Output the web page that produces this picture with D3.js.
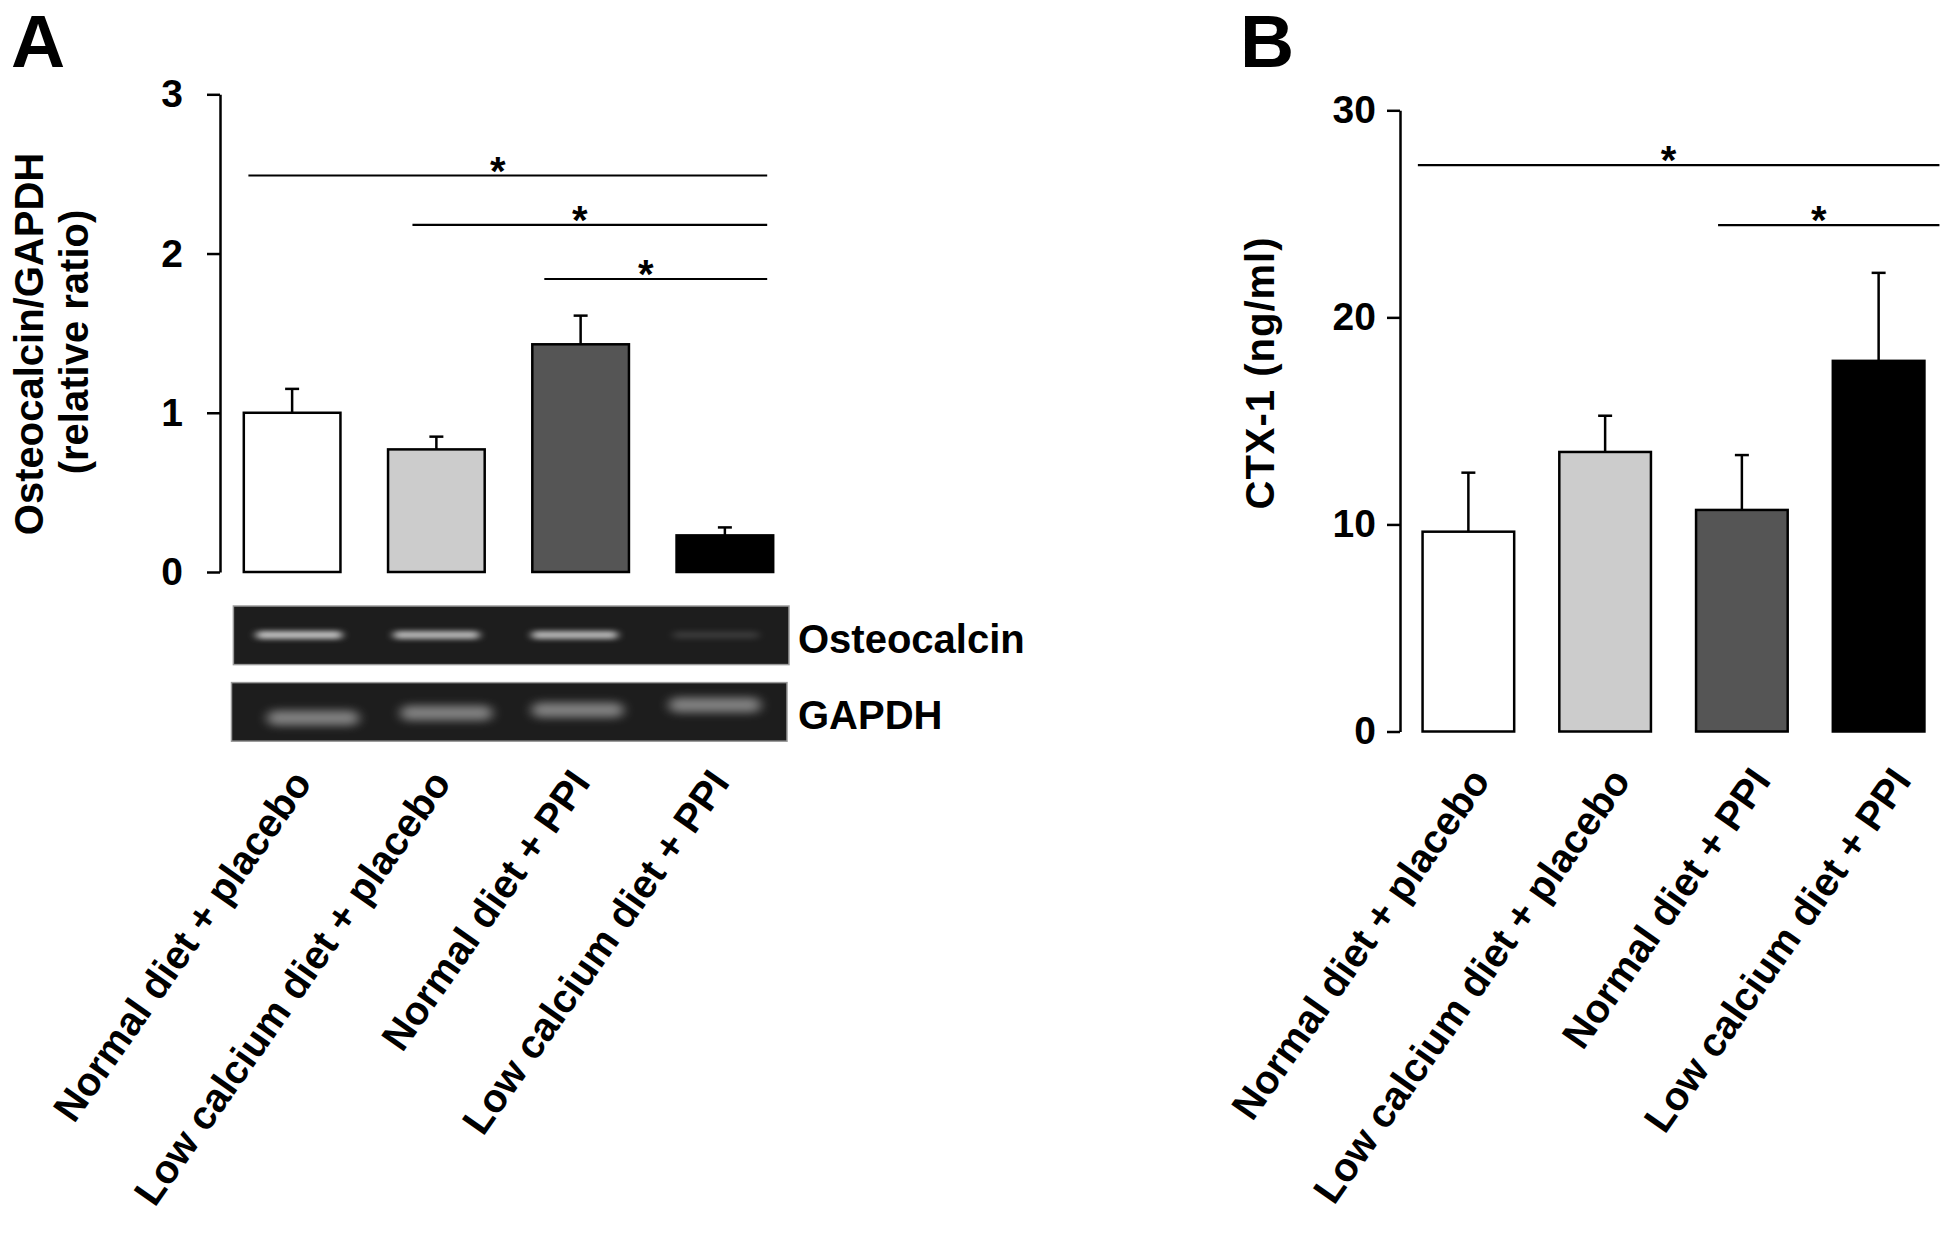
<!DOCTYPE html>
<html>
<head>
<meta charset="utf-8">
<script src="https://cdn.jsdelivr.net/npm/d3@7"></script>
<style>
  body { margin: 0; background: #fff; }
  text { font-family: "Liberation Sans", Arial, sans-serif; font-weight: bold; fill: #000; }
</style>
</head>
<body>
<div id="my_chart"></div>
<script>
// data
const categories = ["Normal diet + placebo", "Low calcium diet + placebo", "Normal diet + PPI", "Low calcium diet + PPI"];
const fills = ["#ffffff", "#cccccc", "#555555", "#000000"];

const osteoMean = [1.0, 0.77, 1.43, 0.23];
const osteoErr = [0.15, 0.08, 0.18, 0.05];
const osteoTicks = [0, 1, 2, 3];
// [from group, to group, level]
const osteoSig = [[0, 3, 2.49], [1, 3, 2.18], [2, 3, 1.84]];

const ctxMean = [9.65, 13.5, 10.7, 17.9];
const ctxErr = [2.85, 1.75, 2.65, 4.25];
const ctxTicks = [0, 10, 20, 30];
const ctxSig = [[0, 3, 27.35], [2, 3, 24.45]];

// gel band intensities (0-1)
const osteoBand = [0.85, 0.8, 0.8, 0.14];
const gapdhBand = [0.72, 0.72, 0.72, 0.72];

const W = 1949, H = 1239;

const svg = d3.select("#my_chart")
    .append("svg")
    .attr("width", W)
    .attr("height", H);

const defs = svg.append("defs");
defs.append("filter").attr("id", "blurS").attr("x", "-30%").attr("y", "-200%").attr("width", "160%").attr("height", "500%")
    .append("feGaussianBlur").attr("stdDeviation", "4 2.5");
defs.append("filter").attr("id", "blurL").attr("x", "-30%").attr("y", "-200%").attr("width", "160%").attr("height", "500%")
    .append("feGaussianBlur").attr("stdDeviation", "6 4");

function drawPanel(o) {
    const g = svg.append("g");
    const data = categories.map((c, i) => ({ cat: c, mean: o.mean[i], err: o.err[i], fill: fills[i] }));

    const x = d3.scaleBand()
        .domain(categories)
        .range(o.xRange)
        .paddingInner(0.33)
        .paddingOuter(0.165);

    const y = d3.scaleLinear()
        .domain(o.yDomain)
        .range(o.yRange);

    // Y axis
    const ax = g.append("g")
        .attr("transform", `translate(${o.xRange[0]},0)`)
        .call(d3.axisLeft(y).tickValues(o.ticks).tickFormat(d3.format("d"))
            .tickSize(13).tickSizeOuter(0).tickPadding(o.tickPad));
    ax.select(".domain").attr("stroke", "#000").attr("stroke-width", 2.5);
    ax.selectAll(".tick line").attr("stroke", "#000").attr("stroke-width", 2.5);
    ax.selectAll(".tick text")
        .style("font-size", "39px")
        .style("font-family", "Liberation Sans, Arial, sans-serif")
        .style("font-weight", "bold")
        .attr("fill", "#000");

    // error bars
    const eb = g.selectAll(".err").data(data).join("g");
    eb.append("line")
        .attr("x1", d => x(d.cat) + x.bandwidth() / 2)
        .attr("x2", d => x(d.cat) + x.bandwidth() / 2)
        .attr("y1", d => y(d.mean))
        .attr("y2", d => y(d.mean + d.err))
        .attr("stroke", "#000").attr("stroke-width", 2.5);
    eb.append("line")
        .attr("x1", d => x(d.cat) + x.bandwidth() / 2 - 7)
        .attr("x2", d => x(d.cat) + x.bandwidth() / 2 + 7)
        .attr("y1", d => y(d.mean + d.err))
        .attr("y2", d => y(d.mean + d.err))
        .attr("stroke", "#000").attr("stroke-width", 2.5);

    // Bars
    g.selectAll(".bar")
        .data(data)
        .join("rect")
        .attr("x", d => x(d.cat))
        .attr("width", x.bandwidth())
        .attr("y", d => y(d.mean))
        .attr("height", d => y(0) - y(d.mean))
        .attr("fill", d => d.fill)
        .attr("stroke", "#000")
        .attr("stroke-width", 2.5);

    // significance lines
    o.sig.forEach((s, i) => {
        const x0 = x(categories[s[0]]) + o.sigStart[i];
        const x1 = x(categories[s[1]]) + x.bandwidth() + o.sigEnd[i];
        g.append("line")
            .attr("x1", x0).attr("x2", x1)
            .attr("y1", y(s[2])).attr("y2", y(s[2]))
            .attr("stroke", "#000").attr("stroke-width", 2.2);
        g.append("text")
            .attr("x", (x0 + x1) / 2 - 10)
            .attr("y", y(s[2]) + 9)
            .attr("text-anchor", "middle")
            .style("font-size", "40px")
            .text("*");
    });

    // category labels
    const lx = d3.scalePoint()
        .domain(categories)
        .range([x(categories[0]) + x.bandwidth() / 2 + o.labOff[0],
                x(categories[3]) + x.bandwidth() / 2 + o.labOff[1]]);
    g.selectAll(".lab")
        .data(categories)
        .join("text")
        .attr("text-anchor", "end")
        .attr("transform", d => `translate(${lx(d)},${o.labY}) rotate(-55)`)
        .style("font-size", "40px")
        .text(d => d);

    // y title
    o.title.forEach(t => {
        g.append("text")
            .attr("text-anchor", "middle")
            .attr("transform", `translate(${t.x},${t.y}) rotate(-90)`)
            .style("font-size", "40px")
            .style("letter-spacing", t.ls || "0px")
            .text(t.text);
    });

    // panel letter
    g.append("text")
        .attr("x", o.letter.x).attr("y", o.letter.y)
        .style("font-size", "75px")
        .text(o.letter.text);

    return { g, x, y };
}

const A = drawPanel({
    mean: osteoMean, err: osteoErr, ticks: osteoTicks, sig: osteoSig,
    xRange: [220, 797], yDomain: [0, 3], yRange: [572, 94.3], tickPad: 24,
    sigStart: [4.6, 24.4, 12], sigEnd: [-6, -6, -6],
    labOff: [21, 6], labY: 783,
    title: [{ text: "Osteocalcin/GAPDH", x: 43, y: 344 }, { text: "(relative ratio)", x: 88, y: 342 }],
    letter: { text: "A", x: 11, y: 66.7 }
});

drawPanel({
    mean: ctxMean, err: ctxErr, ticks: ctxTicks, sig: ctxSig,
    xRange: [1400, 1947], yDomain: [0, 30], yRange: [731.5, 110.3], tickPad: 11,
    sigStart: [-4.7, 22], sigEnd: [15, 15],
    labOff: [23, 34], labY: 781,
    title: [{ text: "CTX-1 (ng/ml)", x: 1274, y: 373, ls: "1px" }],
    letter: { text: "B", x: 1240, y: 66.7 }
});

// gel strips under panel A
const xA = A.x;
const gels = [
    { name: "Osteocalcin", vals: osteoBand, y0: 606, y1: 664.6, x0: 233.4, x1: 789, bandY: [635, 635, 635, 635],
      bandOff: [7, 0, -6, -9], bw: 86, bh: 8, filter: "url(#blurS)", col: "#dcdcdc", labY: 653 },
    { name: "GAPDH", vals: gapdhBand, y0: 682.6, y1: 741.2, x0: 231.5, x1: 787, bandY: [718, 713, 710, 705],
      bandOff: [21, 10, -3, -10], bw: 92, bh: 15, filter: "url(#blurL)", col: "#a8a8a8", labY: 729.3 }
];
gels.forEach(gel => {
    const gg = svg.append("g");
    gg.append("rect")
        .attr("x", gel.x0).attr("y", gel.y0)
        .attr("width", gel.x1 - gel.x0).attr("height", gel.y1 - gel.y0)
        .attr("fill", "#1d1d1d")
        .attr("stroke", "#9a9a9a").attr("stroke-width", 1.5);
    gg.selectAll(".band")
        .data(categories)
        .join("rect")
        .attr("x", (d, i) => xA(d) + xA.bandwidth() / 2 + gel.bandOff[i] - gel.bw / 2)
        .attr("y", (d, i) => gel.bandY[i] - gel.bh / 2)
        .attr("width", gel.bw)
        .attr("height", gel.bh)
        .attr("rx", gel.bh / 2)
        .attr("fill", gel.col)
        .attr("opacity", (d, i) => gel.vals[i])
        .attr("filter", gel.filter);
    svg.append("text")
        .attr("x", 798).attr("y", gel.labY)
        .style("font-size", "40px")
        .text(gel.name);
});
</script>
</body>
</html>
